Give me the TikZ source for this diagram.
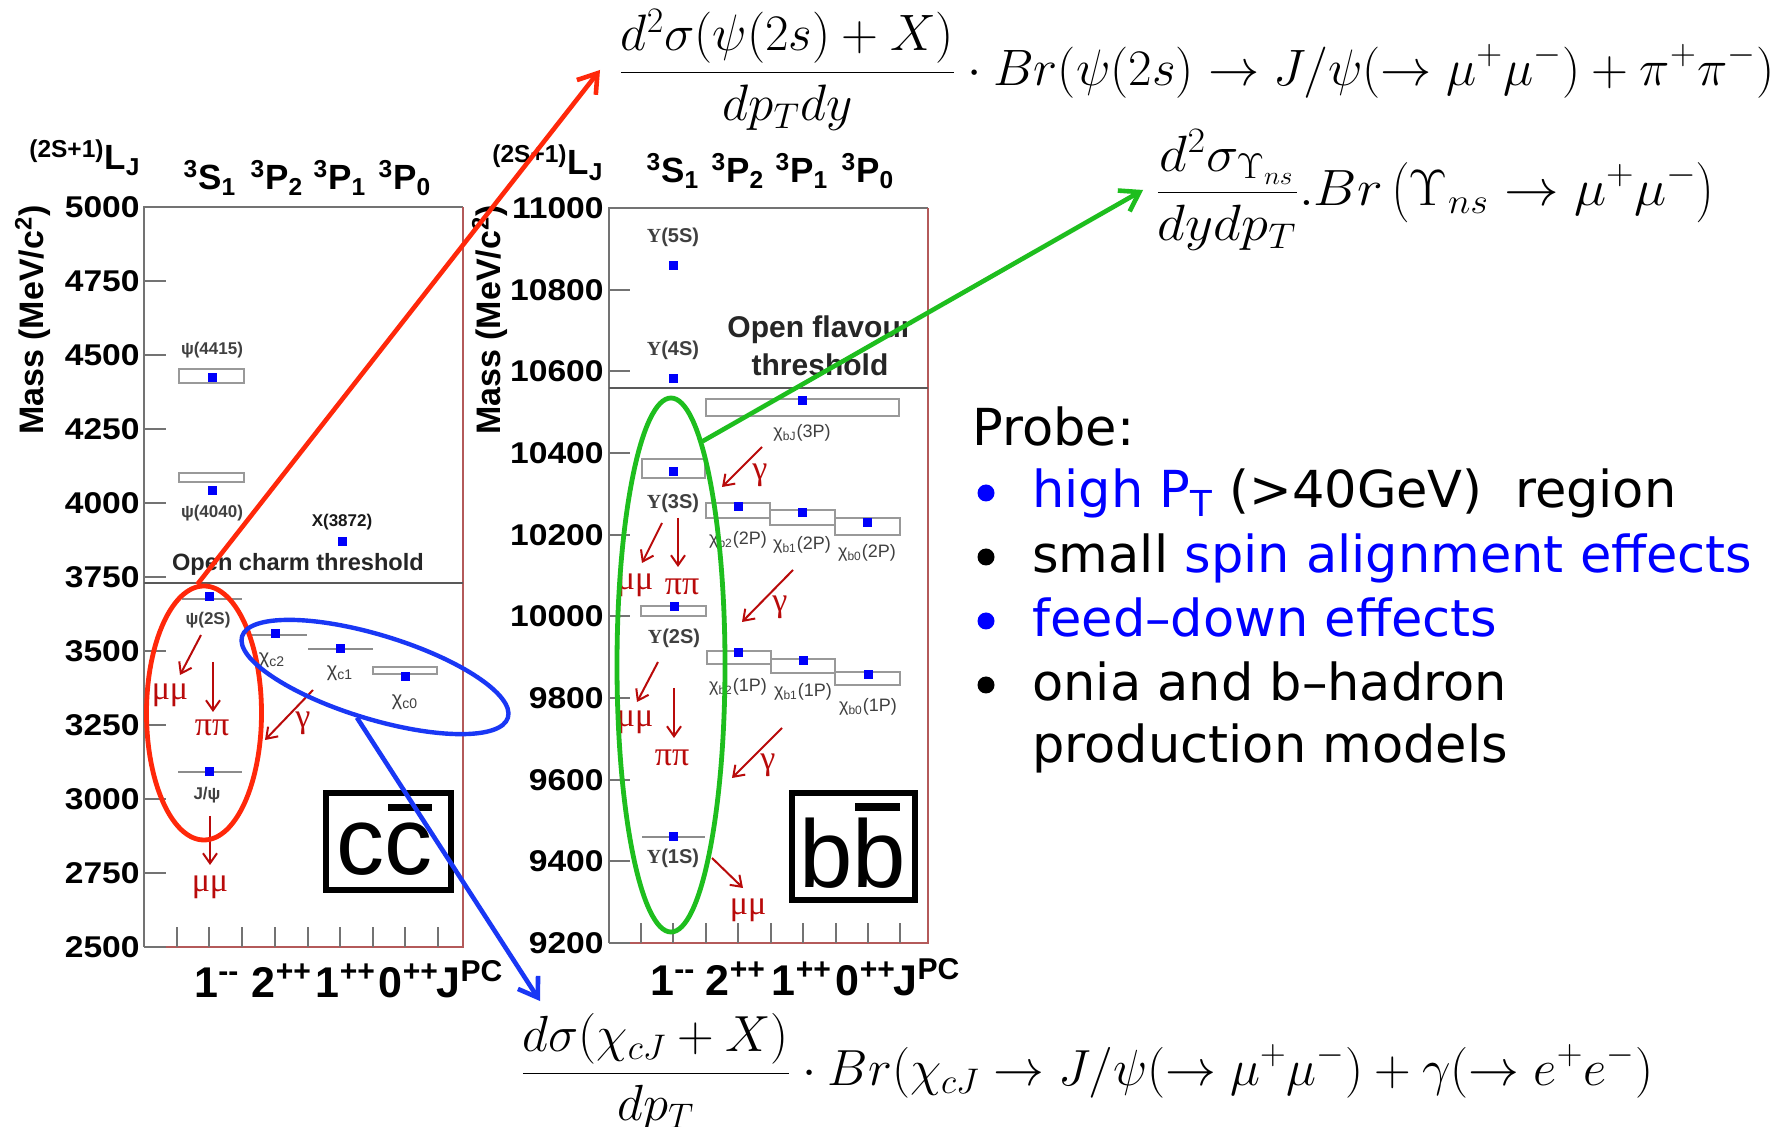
\RequirePackage{fix-cm}
\documentclass[tikz,border=0pt]{standalone}
\usepackage[no-math]{fontspec}
\newfontfamily\hel{Liberation Sans}
\newfontfamily\serf{Liberation Serif}
\newfontfamily\prb{DejaVu Sans}
\usetikzlibrary{arrows.meta,shapes.geometric}
\definecolor{ored}{RGB}{255,40,10}
\definecolor{oblue}{RGB}{25,55,245}
\definecolor{ogreen}{RGB}{30,190,30}
\definecolor{dred}{RGB}{185,10,10}
\definecolor{frred}{RGB}{180,90,90}
\definecolor{frgray}{RGB}{115,115,115}
\definecolor{sqblue}{RGB}{0,0,250}
\newcommand\oSx[1]{\scalebox{1.12}[1]{#1}}
\newcommand\oFs[1]{\fontsize{#1}{#1}\selectfont}
\newcommand\oSq[2]{\fill[sqblue] (#1-4.5,#2-4.5) rectangle (#1+4.5,#2+4.5);}
\newcommand\oLvl[3]{\draw[lvlline] (#1,#3) -- (#2,#3);}
\newcommand\oBx[4]{\draw[lvlbox] (#1,#3) rectangle (#2,#4);}
\begin{document}
\begin{tikzpicture}[x=0.5pt,y=-0.5pt,
  ticklab/.style={anchor=east, inner sep=0, font=\hel\bfseries\oFs{15}},
  hdr/.style={anchor=base, inner sep=0, font=\hel\bfseries\oFs{17.5}},
  botlab/.style={anchor=base, inner sep=0, font=\hel\bfseries\oFs{21.5}},
  masslab/.style={rotate=90, inner sep=0, font=\hel\bfseries\oFs{17}},
  plab/.style={inner sep=0, font=\hel\bfseries\oFs{8.5}, text=black!75},
  ulab/.style={inner sep=0, font=\hel\bfseries\oFs{10}, text=black!75},
  chilab/.style={inner sep=0, font=\hel\oFs{10}, text=black!75},
  thrtxt/.style={inner sep=0, font=\hel\bfseries\oFs{11.8}, text=black!85},
  declab/.style={inner sep=0, font=\serf\oFs{17}, text=dred},
  decay/.style={dred, line width=1pt, -{Straight Barb[length=5pt,width=7pt]}},
  lvlline/.style={black!45, line width=1.3pt},
  lvlbox/.style={black!40, line width=0.6pt},
  tickm/.style={frgray, line width=0.8pt},
  thrline/.style={black!65, line width=0.8pt},
  qbox/.style={draw, line width=3pt, inner sep=0},
  qtxt/.style={inner sep=0, font=\hel\oFs{48}},
  fml/.style={anchor=west, inner ysep=0},
  prbtxt/.style={anchor=base west, inner sep=0, font=\prb\oFs{25.5}},
  prbbul/.style={circle, fill, inner sep=0, minimum size=8.5pt},
  bigarr/.style={line width=2.3pt, -{Straight Barb[length=9pt,width=12pt]}}
]
\useasboundingbox (0,0) rectangle (1778,1127);
\fill[white] (0,0) rectangle (1778,1127);

% ================= charmonium plot =================
\draw[frgray, line width=0.75pt] (463,207) -- (144,207) -- (144,947);
\draw[frred, line width=0.75pt] (144,947) -- (463,947) -- (463,207);
\foreach \lab/\yy in {5000/207,4750/281,4500/355,4250/429,4000/503,3750/577,3500/651,3250/725,3000/799,2750/873,2500/947}{
  \draw[tickm] (144,\yy) -- (166,\yy);
  \node[ticklab] (cl\lab) at (140,\yy) {\oSx{\lab}};
}
\foreach \xx in {177,209,242,275,308,340,373,405,438}{\draw[tickm] (\xx,947) -- (\xx,927);}
\draw[thrline] (144,583) -- (463,583);
\node[masslab] (cmass) at (33,320) {Mass (MeV/c\textsuperscript{2})};
\node[anchor=base east, inner sep=0, font=\hel\bfseries\oFs{17.5}] (clj) at (141,170) {\textsuperscript{(2S+1)}L\textsubscript{J}};
\node[hdr] (ch1) at (210,190) {\textsuperscript{3}S\textsubscript{1}};
\node[hdr] (ch2) at (277,190) {\textsuperscript{3}P\textsubscript{2}};
\node[hdr] (ch3) at (340,190) {\textsuperscript{3}P\textsubscript{1}};
\node[hdr] (ch4) at (405,190) {\textsuperscript{3}P\textsubscript{0}};
\node[botlab] (cb1) at (217,997) {1\textsuperscript{-{}-}};
\node[botlab] (cb2) at (282,997) {2\textsuperscript{++}};
\node[botlab] (cb3) at (346,997) {1\textsuperscript{++}};
\node[botlab] (cb4) at (409,997) {0\textsuperscript{++}};
\node[botlab] (cb5) at (470,997) {J\textsuperscript{PC}};

\oBx{179}{244}{369}{383}\oSq{212}{378}
\node[plab] (cp1) at (212,350) {ψ(4415)};
\oBx{179}{244}{473}{482}\oSq{212}{491}
\node[plab] (cp2) at (212,513) {ψ(4040)};
\oSq{342}{542}
\node[plab, text=black!90] (cp3) at (342,522) {X(3872)};
\node[thrtxt] (cthr) at (298,564) {Open charm threshold};
\oLvl{182}{242}{599}\oSq{209}{597}
\node[plab] (cp4) at (208,620) {ψ(2S)};
\oLvl{250}{307}{635}\oSq{275}{634}
\node[chilab] (cp5) at (272,660) {χ\textsubscript{c2}};
\oLvl{308}{373}{649}\oSq{340}{649}
\node[chilab] (cp6) at (340,673) {χ\textsubscript{c1}};
\oBx{373}{437}{667}{674}\oSq{405}{677}
\node[chilab] (cp7) at (405,702) {χ\textsubscript{c0}};
\oLvl{178}{242}{772}\oSq{209}{772}
\node[plab] (cp8) at (207,795) {J/ψ};
\draw[decay] (201,635) -- (180,675);
\node[declab] (cd1) at (170,695) {μμ};
\draw[decay] (213,662) -- (213,712);
\node[declab] (cd2) at (212,728) {ππ};
\draw[decay] (313,690) -- (265,740);
\node[declab] (cd3) at (303,723) {γ};
\draw[decay] (210,816) -- (210,865);
\node[declab] (cd4) at (210,887) {μμ};
\node[qbox, minimum width=62.5pt, minimum height=48.5pt] (ccbox) at (388.5,841.5) {};
\node[qtxt] (cctxt) at (384,849) {cc};
\draw[line width=3.5pt] (388,808) -- (432,808);

% ================= bottomonium plot =================
\draw[frgray, line width=0.75pt] (928,208) -- (609,208) -- (609,943);
\draw[frred, line width=0.75pt] (609,943) -- (928,943) -- (928,208);
\foreach \lab/\yy in {11000/208,10800/290,10600/371,10400/453,10200/535,10000/616,9800/698,9600/780,9400/861,9200/943}{
  \draw[tickm] (609,\yy) -- (630,\yy);
  \node[ticklab] (bl\lab) at (604,\yy) {\oSx{\lab}};
}
\foreach \xx in {641,673,706,738,771,803,836,868,900}{\draw[tickm] (\xx,943) -- (\xx,923);}
\draw[thrline] (609,388) -- (928,388);
\node[masslab] (bmass) at (490,320) {Mass (MeV/c\textsuperscript{2})};
\node[anchor=base east, inner sep=0, font=\hel\bfseries\oFs{17.5}] (blj) at (604,175) {\textsuperscript{(2S+1)}L\textsubscript{J}};
\node[hdr] (bh1) at (673,183) {\textsuperscript{3}S\textsubscript{1}};
\node[hdr] (bh2) at (738,183) {\textsuperscript{3}P\textsubscript{2}};
\node[hdr] (bh3) at (802,183) {\textsuperscript{3}P\textsubscript{1}};
\node[hdr] (bh4) at (868,183) {\textsuperscript{3}P\textsubscript{0}};
\node[botlab] (bb1) at (673,995) {1\textsuperscript{-{}-}};
\node[botlab] (bb2) at (736,995) {2\textsuperscript{++}};
\node[botlab] (bb3) at (802,995) {1\textsuperscript{++}};
\node[botlab] (bb4) at (866,995) {0\textsuperscript{++}};
\node[botlab] (bb5) at (927,995) {J\textsuperscript{PC}};

\oSq{673}{266}
\node[ulab] (bp1) at (673,237) {{\serf Υ}(5S)};
\oSq{673}{379}
\node[ulab] (bp2) at (673,350) {{\serf Υ}(4S)};
\node[inner sep=0, font=\hel\bfseries\oFs{15}, text=black!85] (bthr1) at (820,330) {Open flavour};
\node[inner sep=0, font=\hel\bfseries\oFs{15}, text=black!85] (bthr2) at (820,365) {threshold};
\oBx{706}{899}{399}{416}\oSq{802}{401}
\node[chilab, font=\hel\oFs{9}] (bp3) at (802,433) {χ\textsubscript{bJ}(3P)};
\oBx{642}{705}{459}{478}\oSq{673}{472}
\node[ulab] (bp4) at (673,503) {{\serf Υ}(3S)};
\oBx{706}{770}{503}{518}\oSq{738}{507}
\node[chilab, font=\hel\oFs{9}] (bp5) at (738,540) {χ\textsubscript{b2}(2P)};
\oBx{770}{835}{510}{525}\oSq{802}{513}
\node[chilab, font=\hel\oFs{9}] (bp6) at (802,545) {χ\textsubscript{b1}(2P)};
\oBx{835}{900}{518}{535}\oSq{867}{523}
\node[chilab, font=\hel\oFs{9}] (bp7) at (867,553) {χ\textsubscript{b0}(2P)};
\oBx{641}{706}{606}{616}\oSq{674}{607}
\node[ulab] (bp8) at (674,638) {{\serf Υ}(2S)};
\oBx{707}{771}{651}{664}\oSq{738}{653}
\node[chilab, font=\hel\oFs{9}] (bp9) at (738,687) {χ\textsubscript{b2}(1P)};
\oBx{771}{835}{659}{673}\oSq{803}{661}
\node[chilab, font=\hel\oFs{9}] (bp10) at (803,692) {χ\textsubscript{b1}(1P)};
\oBx{835}{900}{672}{685}\oSq{868}{675}
\node[chilab, font=\hel\oFs{9}] (bp11) at (868,707) {χ\textsubscript{b0}(1P)};
\oLvl{642}{705}{837}\oSq{673}{837}
\node[ulab] (bp12) at (673,858) {{\serf Υ}(1S)};
\draw[decay] (762,447) -- (722,487);
\node[declab] (bd1) at (760,475) {γ};
\draw[decay] (662,523) -- (642,563);
\node[declab] (bd2) at (635,585) {μμ};
\draw[decay] (678,518) -- (678,567);
\node[declab] (bd3) at (682,587) {ππ};
\draw[decay] (793,570) -- (742,622);
\node[declab] (bd4) at (780,607) {γ};
\draw[decay] (658,662) -- (637,702);
\node[declab] (bd5) at (635,722) {μμ};
\draw[decay] (674,688) -- (674,738);
\node[declab] (bd6) at (672,758) {ππ};
\draw[decay] (782,728) -- (732,778);
\node[declab] (bd7) at (768,765) {γ};
\draw[decay] (712,858) -- (743,888);
\node[declab] (bd8) at (748,910) {μμ};
\node[qbox, minimum width=61.5pt, minimum height=53.5pt] (bbbox) at (853.5,846.5) {};
\node[qtxt] (bbtxt) at (853,853) {bb};
\draw[line width=4pt] (855,807) -- (900,807);

% ================= highlights =================
\node[draw=ored, ellipse, line width=2.4pt, minimum width=57.5pt, minimum height=127pt] (redell) at (204,713) {};
\node[draw=oblue, ellipse, line width=2.2pt, minimum width=139pt, minimum height=42pt, rotate=-17] (blueell) at (375,677) {};
\node[draw=ogreen, ellipse, line width=2.4pt, minimum width=54pt, minimum height=267pt] (greenell) at (671,665) {};

% ================= formulas =================
\node[fml, inner xsep=9pt, font=\oFs{25.6}] (f1) at (600,70) {$\displaystyle\frac{d^2\sigma(\psi(2s)+X)}{dp_Tdy}\cdot Br(\psi(2s)\rightarrow J/\psi(\rightarrow\mu^+\mu^-)+\pi^+\pi^-)$};
\node[fml, inner xsep=6pt, font=\oFs{25.5}] (f2) at (1143,190) {\scalebox{1.07}[1]{$\displaystyle\frac{d^2\sigma_{\Upsilon_{ns}}}{dydp_T}.Br\left(\Upsilon_{ns}\rightarrow\mu^+\mu^-\right)$}};
\node[fml, inner xsep=0pt, font=\oFs{25.4}] (f3) at (520,1072) {$\displaystyle\frac{d\sigma(\chi_{cJ}+X)}{dp_T}\cdot Br(\chi_{cJ}\rightarrow J/\psi(\rightarrow\mu^+\mu^-)+\gamma(\rightarrow e^+e^-)$};

\draw[bigarr, ored] (redell.93) -- (f1.west);
\draw[bigarr, ogreen] (greenell.82) -- (f2.west);
\draw[bigarr, oblue] (blueell.-97) -- ([xshift=10pt,yshift=6pt]f3.north west);

% ================= probe text =================
\node[prbtxt] (pr0) at (972,446) {Probe:};
\node[prbbul, blue] (pb1) at (986,493) {};
\node[prbtxt] (pr1) at (1032,508) {\textcolor{blue}{high P\textsubscript{T}} (>40GeV)~~region};
\node[prbbul] (pb2) at (986,557) {};
\node[prbtxt] (pr2) at (1032,573) {small \textcolor{blue}{spin alignment effects}};
\node[prbbul, blue] (pb3) at (986,621) {};
\node[prbtxt, text=blue] (pr3) at (1032,637) {feed–down effects};
\node[prbbul] (pb4) at (986,685) {};
\node[prbtxt] (pr4) at (1032,701) {onia and b–hadron};
\node[prbtxt] (pr5) at (1032,763) {production models};
\end{tikzpicture}
\end{document}
